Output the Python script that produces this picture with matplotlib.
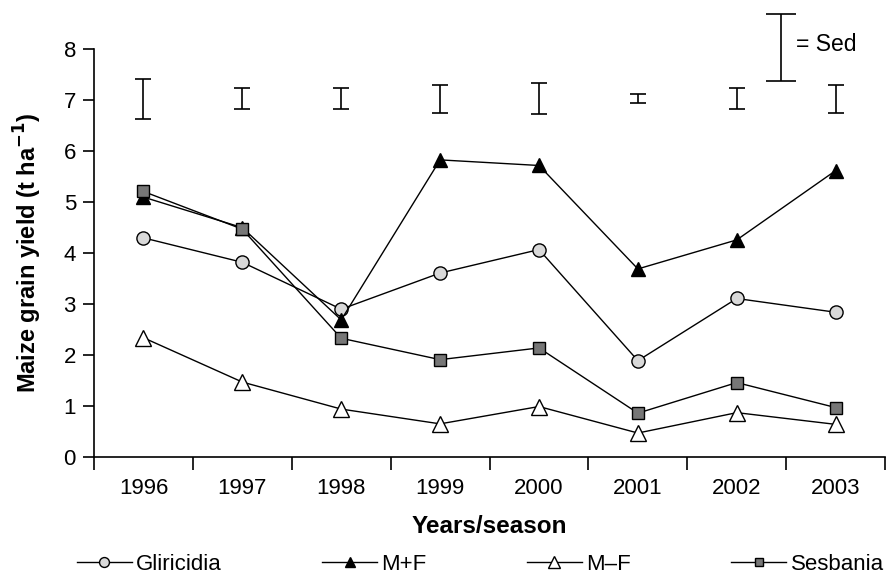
import matplotlib
matplotlib.use("Agg")
import matplotlib.pyplot as plt

plt.rcParams['font.family'] = ['Liberation Sans', 'DejaVu Sans']

years = ['1996', '1997', '1998', '1999', '2000', '2001', '2002', '2003']
gliricidia = [4.30, 3.82, 2.90, 3.61, 4.07, 1.89, 3.11, 2.84]
m_plus_f = [5.10, 4.50, 2.69, 5.83, 5.72, 3.69, 4.26, 5.62]
m_minus_f = [2.34, 1.47, 0.94, 0.65, 0.99, 0.47, 0.87, 0.64]
sesbania = [5.21, 4.47, 2.33, 1.91, 2.14, 0.86, 1.46, 0.97]
sed = [0.78, 0.41, 0.42, 0.55, 0.60, 0.18, 0.42, 0.55]
sed_center = 7.03
sed_key = 1.31
sed_key_center = 8.03
sed_key_x = 6.45

fig = plt.figure(figsize=(8.86, 5.80), dpi=100)
ax = fig.add_axes([0.1061, 0.2121, 0.8929, 0.7029])

x = list(range(len(years)))
common = dict(color='black', lw=1.0, markeredgecolor='black', markeredgewidth=1.0)
ax.plot(x, gliricidia, marker='o', markersize=9.5, markerfacecolor='#d9d9d9', label='Gliricidia', **common)
ax.plot(x, m_plus_f, marker='^', markersize=10.5, markerfacecolor='black', label='M+F', **common)
ax.plot(x, m_minus_f, marker='^', markersize=11, markerfacecolor='white', label='M\u2013F', **common)
ax.plot(x, sesbania, marker='s', markersize=8.5, markerfacecolor='#777777', label='Sesbania', **common)

ax.errorbar(x, [sed_center] * len(x), yerr=[s / 2 for s in sed], fmt='none',
            ecolor='black', elinewidth=1.2, capsize=5.8, capthick=1.2)
ax.errorbar([sed_key_x], [sed_key_center], yerr=[sed_key / 2], fmt='none',
            ecolor='black', elinewidth=1.2, capsize=10.5, capthick=1.2, clip_on=False)
ax.text(sed_key_x + 0.15, sed_key_center + 0.06, '= Sed', fontsize=16.5, va='center', ha='left', clip_on=False)

ax.set_xlim(-0.5, len(years) - 0.5)
ax.set_ylim(0, 8)
ax.set_yticks(range(0, 9))
ax.set_xticks(x)
ax.set_xticklabels(years)
ax.set_xticks([i - 0.5 for i in range(len(years) + 1)], minor=True)
ax.tick_params(axis='x', which='major', length=0, pad=15, labelsize=16)
ax.tick_params(axis='x', which='minor', length=9, width=1.2, direction='out')
ax.tick_params(axis='y', length=8, width=1.2, direction='out', pad=5, labelsize=16)

for s in ['top', 'right']:
    ax.spines[s].set_visible(False)
for s in ['left', 'bottom']:
    ax.spines[s].set_linewidth(1.2)

ax.set_xlabel('Years/season', fontsize=17.5, fontweight='bold', labelpad=12)
ax.set_ylabel('Maize grain yield (t ha$^{\\mathbf{-1}}$)', fontsize=17, fontweight='bold', labelpad=14)

fig.legend(loc='center', bbox_to_anchor=(0.542, 0.027), ncol=4, frameon=False,
           fontsize=16, handlelength=2.48, handletextpad=0.2, columnspacing=4.5,
           borderaxespad=0, borderpad=0, markerscale=0.75)

fig.savefig('out.png', dpi=100)
